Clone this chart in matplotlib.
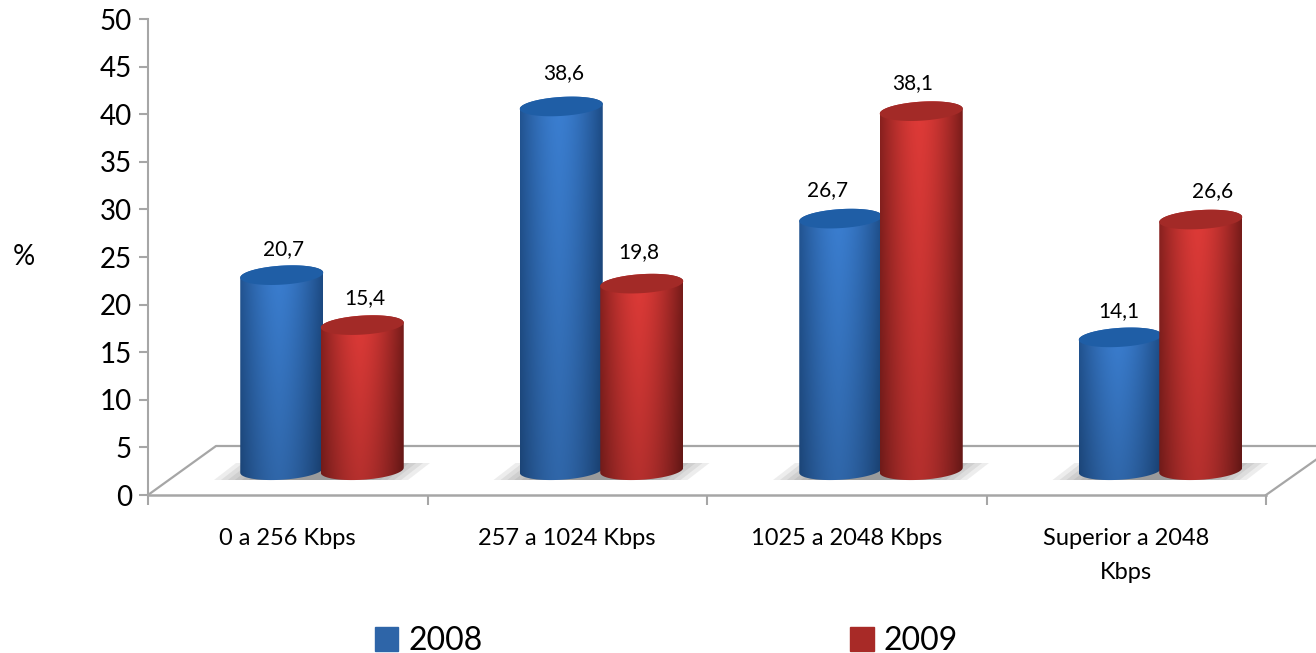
import numpy as np
import matplotlib
matplotlib.use('Agg')
import matplotlib.pyplot as plt
from matplotlib.patches import Polygon, Patch

plt.rcParams['font.family'] = ['Lato', 'DejaVu Sans']

# data
categories = ['0 a 256 Kbps', '257 a 1024 Kbps', '1025 a 2048 Kbps', 'Superior a 2048\nKbps']
values_2008 = [20.7, 38.6, 26.7, 14.1]
values_2009 = [15.4, 19.8, 38.1, 26.6]
labels_2008 = ['20,7', '38,6', '26,7', '14,1']
labels_2009 = ['15,4', '19,8', '38,1', '26,6']
yticks = list(range(0, 55, 5))

W, H = 1316, 653
px_x = 279.5  # pixels per category
px_y = 476 / 50  # pixels per % unit

fig = plt.figure(figsize=(W / 100, H / 100), dpi=100)
ax = fig.add_axes([148 / W, (H - 495) / H, (W - 148) / W, 476 / H])
xmax = (W - 148) / px_x
GREY = '#a6a6a6'

# bars stand a little behind the front edge of the floor
base = 2.6
squash = 0.99
half_w = 41.5 / px_x
ell_h = 9.5 / px_y
tilt = 2.5 / px_y


def ellipse(cx, cy, t):
    return cx + half_w * np.cos(t), cy + ell_h * np.sin(t) + tilt * np.cos(t)


def cylinder(cx, value, dark, bright, top_col, z):
    top = base + value * squash
    t1 = np.linspace(np.pi, 2 * np.pi, 40)
    t2 = np.linspace(0, np.pi, 40)
    xb, yb = ellipse(cx, base, t1)
    xt, yt = ellipse(cx, top, t2)
    outline = Polygon(np.column_stack([np.r_[xb, xt], np.r_[yb, yt]]), closed=True,
                      transform=ax.transData, fc='none', ec='none')
    ax.add_patch(outline)
    # shading: brightest left of the middle, fading towards the bottom
    u = np.linspace(0, 1, 80)
    v = np.linspace(0, 1, 60)
    prof = np.clip(1 - (np.abs(u - 0.47) / 0.53) ** 1.6, 0, 1)
    fade = 0.8 + 0.2 * v[:, None]  # image row 0 is the bottom
    d = np.array(matplotlib.colors.to_rgb(dark))
    b = np.array(matplotlib.colors.to_rgb(bright))
    img = (d[None, None, :] + (b - d)[None, None, :] * prof[None, :, None]) * fade[:, :, None]
    im = ax.imshow(img, origin='lower', aspect='auto', interpolation='bilinear', zorder=z,
                   extent=[cx - half_w, cx + half_w, base - 2, top + 2])
    im.set_clip_path(outline)
    tx, ty = ellipse(cx, top, np.linspace(0, 2 * np.pi, 80))
    ax.fill(tx, ty, color=top_col, lw=0, zorder=z + 0.1)
    return top


# floor
floor_dx = 68 / px_x
floor_h = 49 / px_y
ax.plot([0, 4], [0, 0], color=GREY, lw=1.8, zorder=1, clip_on=False)
ax.plot([0, floor_dx, xmax], [0, floor_h, floor_h], color=GREY, lw=1.6, zorder=1)
ax.plot([4, xmax], [0, floor_h * 0.72], color=GREY, lw=1.6, zorder=1)

x = np.arange(4) + 0.5
off_blue = -6 / px_x
off_red = 74.5 / px_x
dx_2008 = [2, 2, -13, -1]  # label nudge, px
dx_2009 = [3, -3, -9, 12]
dy_2008 = [26, 33, 29, 26]
dy_2009 = [27, 32, 28, 28]

for i in range(4):
    # soft shadow under each pair
    c = x[i] + (off_blue + off_red) / 2
    for s in np.linspace(1, 0.55, 8):
        w = 108 * s / px_x
        sk = 22 / px_x
        y0, y1 = (495 - 480) / px_y, (495 - 463) / px_y
        ax.fill([c - w, c + w - sk, c + w, c - w + sk], [y0, y0, y1, y1],
                color='#555555', alpha=0.1, lw=0, zorder=1.5)

    t1 = cylinder(x[i] + off_blue, values_2008[i], '#1d4c86', '#3b7fd2', '#1f5ea6', 2)
    t2 = cylinder(x[i] + off_red, values_2009[i], '#781c1a', '#e03b38', '#a32a27', 3)
    ax.annotate(labels_2008[i], (x[i] + off_blue, t1), xytext=(dx_2008[i] * 0.72, dy_2008[i] * 0.72),
                textcoords='offset points', ha='center', va='center', fontsize=15, color='black', zorder=5)
    ax.annotate(labels_2009[i], (x[i] + off_red, t2), xytext=(dx_2009[i] * 0.72, dy_2009[i] * 0.72),
                textcoords='offset points', ha='center', va='center', fontsize=15, color='black', zorder=5)

ax.set_xlim(0, xmax)
ax.set_ylim(0, 50)
for s in ['top', 'right', 'bottom']:
    ax.spines[s].set_visible(False)
ax.spines['left'].set_color(GREY)
ax.spines['left'].set_linewidth(1.5)

ax.set_yticks(yticks)
ax.tick_params(axis='y', length=6.5, width=1.5, color=GREY, labelsize=20, pad=5)
ax.set_xticks(range(5))
ax.set_xticklabels([])
ax.set_xticks(x, minor=True)
ax.set_xticklabels(categories, minor=True, fontsize=17, linespacing=1.75)
ax.tick_params(axis='x', which='major', length=7, width=1.5, color=GREY)
ax.tick_params(axis='x', which='minor', length=0, pad=24)

ax.set_ylabel('%', rotation=0, fontsize=20)
ax.yaxis.set_label_coords(-124 / (W - 148), (495 - 257) / 476, transform=ax.transAxes)
ax.yaxis.label.set_va('center')

handles = [Patch(color='#2e65a8', label='2008'), Patch(color='#a82a27', label='2009')]
fig.legend(handles=handles, ncol=2, loc='center', bbox_to_anchor=(666 / W, (H - 641) / H),
           frameon=False, fontsize=23, handlelength=0.75, handleheight=0.75,
           handletextpad=0.3, columnspacing=11.5, borderpad=0, borderaxespad=0)

fig.savefig('out.png', dpi=100)
